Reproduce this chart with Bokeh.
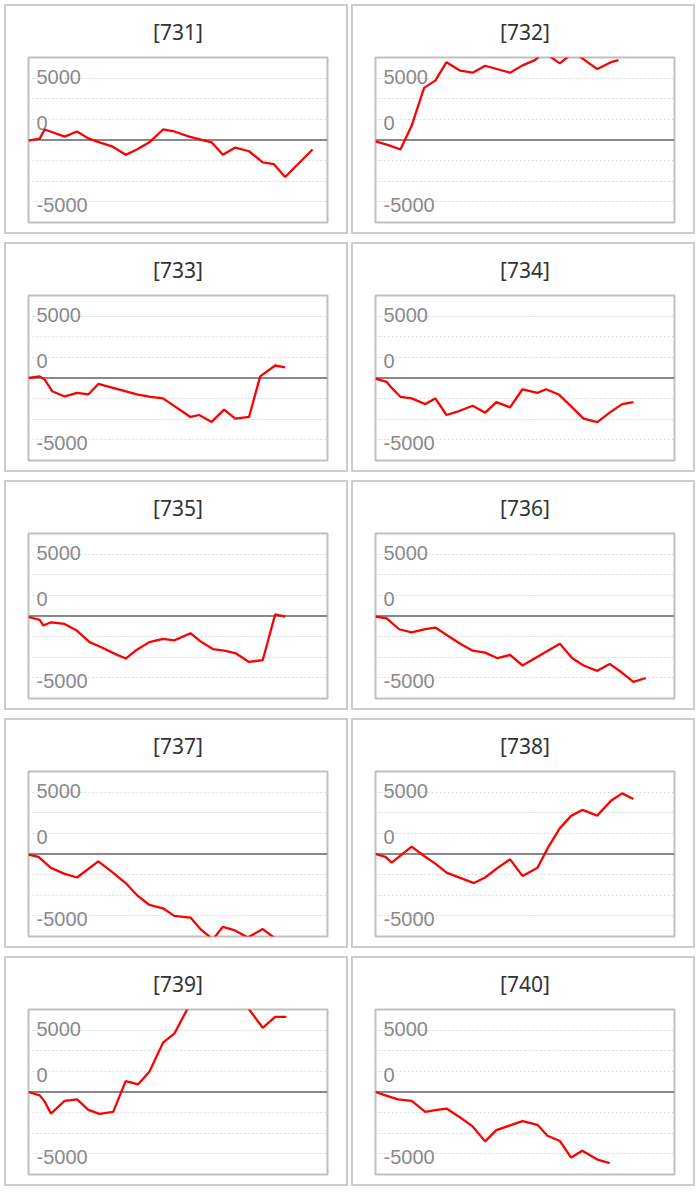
from bokeh.plotting import figure
from bokeh.models import Range1d, Span, Grid, FixedTicker
from bokeh.layouts import column, row
from bokeh.core.properties import value
from bokeh.embed import file_html
from bokeh.resources import INLINE

# ---------------- data ----------------
panel_ids = ["731", "732", "733", "734", "735", "736", "737", "738", "739", "740"]

x731 = [0, 0.9, 1.3, 2.9, 3.9, 4.8, 5.7, 6.7, 7.8, 8.7, 9.7, 10.8, 11.7, 12.9, 14.7, 15.6, 16.6, 17.7, 18.8, 19.7, 20.6, 22.8]
y731 = [-50, 110, 850, 270, 690, 130, -190, -510, -1200, -770, -190, 850, 690, 270, -190, -1200, -610, -910, -1810, -1950, -2990, -770]

x732 = [0, 1.1, 2.0, 2.9, 3.9, 4.8, 5.7, 6.8, 7.8, 8.8, 10.8, 11.8, 12.8, 13.5, 14.8, 15.9, 17.8, 18.9, 19.5]
y732 = [-110, -430, -770, 1150, 4210, 4800, 6290, 5600, 5440, 6000, 5440, 6030, 6450, 7100, 6190, 7100, 5730, 6290, 6450]

x733 = [0, 0.9, 1.3, 1.9, 2.9, 3.9, 4.8, 5.6, 8.7, 9.8, 10.8, 13.0, 13.7, 14.7, 15.7, 16.6, 17.7, 18.6, 19.8, 20.6]
y733 = [0, 130, -130, -1070, -1490, -1200, -1330, -480, -1330, -1520, -1650, -3150, -2990, -3550, -2560, -3280, -3150, 130, 1010, 850]

x734 = [0, 0.9, 1.3, 2.0, 2.9, 4.0, 4.8, 5.7, 6.7, 7.8, 8.8, 9.7, 10.8, 11.8, 13.0, 13.7, 14.7, 15.6, 16.7, 17.8, 18.9, 19.8, 20.7]
y734 = [-50, -320, -800, -1520, -1650, -2110, -1650, -2990, -2670, -2240, -2800, -1950, -2370, -910, -1200, -910, -1330, -2190, -3280, -3570, -2720, -2110, -1950]

x735 = [0, 0.9, 1.2, 1.8, 2.9, 3.9, 4.9, 5.8, 6.9, 7.8, 8.7, 9.7, 10.8, 11.7, 13.0, 13.8, 14.8, 15.7, 16.6, 17.7, 18.8, 19.8, 20.6]
y735 = [-80, -320, -770, -510, -640, -1200, -2110, -2510, -3040, -3440, -2720, -2110, -1840, -1970, -1390, -2050, -2670, -2800, -2990, -3710, -3570, 130, -50]

x736 = [0, 0.9, 1.9, 2.9, 4.0, 4.8, 5.9, 6.8, 7.8, 8.8, 9.8, 10.8, 11.8, 12.8, 13.8, 14.8, 15.8, 16.7, 17.8, 18.8, 19.8, 20.7, 21.7]
y736 = [-50, -190, -1070, -1330, -1070, -930, -1650, -2240, -2800, -2960, -3410, -3150, -4000, -3410, -2830, -2240, -3410, -4000, -4430, -3870, -4590, -5330, -5010]

x737 = [0, 0.8, 1.8, 2.9, 3.9, 5.6, 6.7, 7.8, 8.7, 9.7, 10.8, 11.7, 13.0, 13.8, 14.8, 15.6, 16.5, 17.6, 18.8, 19.9]
y737 = [-50, -240, -1120, -1610, -1900, -590, -1450, -2350, -3320, -4120, -4390, -5000, -5140, -6070, -6900, -5890, -6150, -6750, -6070, -6900]

x738 = [0, 0.8, 1.3, 2.1, 2.9, 3.9, 4.8, 5.7, 6.8, 7.9, 8.8, 9.8, 10.8, 11.8, 13.0, 13.8, 14.8, 15.7, 16.6, 17.8, 18.9, 19.8, 20.7]
y738 = [0, -240, -700, -50, 590, -160, -780, -1500, -1930, -2350, -1900, -1120, -430, -1770, -1120, 430, 2090, 3080, 3560, 3100, 4310, 4900, 4440]

x739 = [0, 0.9, 1.3, 1.8, 2.9, 3.9, 4.8, 5.7, 6.8, 7.8, 8.8, 9.7, 10.8, 11.7, 12.8, 13.8, 14.8, 15.8, 16.8, 18.8, 19.8, 20.7]
y739 = [0, -270, -780, -1740, -720, -590, -1450, -1770, -1610, 880, 620, 1630, 3990, 4710, 6800, 7600, 8000, 8100, 7900, 5190, 6070, 6070]

x740 = [0, 0.8, 1.8, 2.9, 4.0, 4.8, 5.7, 6.8, 7.8, 8.8, 9.7, 10.8, 11.8, 13.0, 13.8, 14.8, 15.7, 16.6, 17.8, 18.8]
y740 = [0, -270, -590, -720, -1600, -1470, -1340, -2060, -2780, -3990, -3080, -2700, -2350, -2650, -3530, -3960, -5300, -4740, -5460, -5750]

series = {
    "731": (x731, y731), "732": (x732, y732), "733": (x733, y733),
    "734": (x734, y734), "735": (x735, y735), "736": (x736, y736),
    "737": (x737, y737), "738": (x738, y738), "739": (x739, y739),
    "740": (x740, y740),
}

tick_values = [5000, 0, -5000]
tick_labels = ["5000", "0", "-5000"]
grid_values = [-5000, -10000 / 3, -5000 / 3, 5000 / 3, 10000 / 3, 5000]
y_limit = 20000 / 3
x_limit = 24

# ---------------- style ----------------
label_nudge = [-1, -17, 3]   # screen px, positive = down
PANEL_BORDER = "2px solid #cccccc"


def make_panel(pid):
    xs, ys = series[pid]
    p = figure(
        width=344, height=230,
        x_range=Range1d(0, x_limit), y_range=Range1d(-y_limit, y_limit),
        output_backend="svg", toolbar_location=None,
        x_axis_location=None, y_axis_location=None,
        min_border_left=22, min_border_right=23,
        min_border_top=51, min_border_bottom=14,
        title=f"[{pid}]",
        styles={"border": PANEL_BORDER, "box-sizing": "border-box"},
    )
    # drop the default grids, keep only our own dotted one
    p.center = [c for c in p.center if not isinstance(c, Grid)]

    p.title.align = "center"
    p.title.vertical_align = "top"
    p.title.standoff = 20
    p.title.text_font = "Noto Sans"
    p.title.text_font_size = "21px"
    p.title.text_font_style = "normal"
    p.title.text_color = "#333333"

    p.outline_line_color = "#c0c0c0"
    p.outline_line_width = 2
    p.background_fill_color = "white"
    p.border_fill_color = "white"

    grid = Grid(dimension=1, ticker=FixedTicker(ticks=grid_values),
                grid_line_color="#d9d9d9", grid_line_dash="2 2", grid_line_width=1)
    p.add_layout(grid)

    zero = Span(location=0, dimension="width", line_color="#888888",
                line_width=2, level="underlay")
    p.add_layout(zero)

    p.text(x=[p.x_range.start] * len(tick_values), y=tick_values, text=tick_labels,
           x_offset=8, y_offset=label_nudge,
           text_align="left", text_baseline="middle",
           text_font=value("Liberation Sans"), text_font_size="20px",
           text_color="#8a8a8a")

    p.line(xs, ys, line_color="#ff0000", line_width=2.3)
    return p


panels = [make_panel(pid) for pid in panel_ids]
rows = [row(panels[i], panels[i + 1], spacing=3) for i in range(0, len(panels), 2)]
layout = column(*rows, spacing=8, styles={"margin-left": "4px", "margin-top": "4px"})

open("out.html", "w").write(file_html(layout, INLINE))
